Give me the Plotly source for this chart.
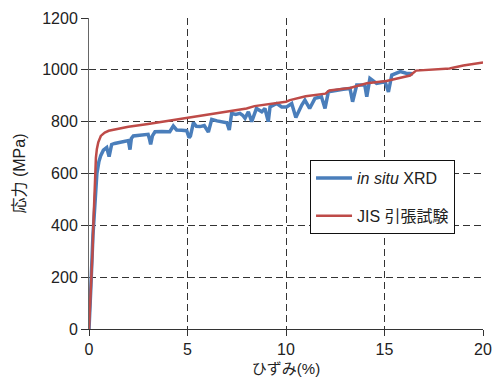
import plotly.graph_objects as go

# in situ XRD (blue)
xrd_strain = [0, 0.05, 0.1, 0.2, 0.3, 0.4, 0.5, 0.6, 0.73, 0.9, 1.02, 1.1, 1.15, 1.3, 1.49, 1.8, 2.0, 2.08,
              2.15, 2.25, 2.6, 3.0, 3.08, 3.13, 3.22, 3.35, 3.7, 4.1, 4.28, 4.45, 4.7, 4.96, 5.08, 5.15,
              5.3, 5.45, 5.63, 5.85, 6.06, 6.23, 6.5, 6.74, 7.0, 7.12, 7.24, 7.45, 7.66, 7.8, 7.92, 8.09,
              8.26, 8.5, 8.77, 8.93, 9.1, 9.19, 9.53, 9.78, 10.03, 10.29, 10.5, 10.8, 10.96, 11.2, 11.47,
              11.8, 11.98, 12.15, 12.57, 12.9, 13.25, 13.38, 13.59, 14.0, 14.1, 14.26, 14.6, 15.03, 15.2,
              15.37, 15.8, 16.1, 16.45]
xrd_stress = [0, 60, 170, 360, 510, 600, 645, 670, 690, 700, 665, 700, 712, 716, 719, 724, 727, 692,
              735, 745, 748, 751, 730, 712, 745, 761, 762, 761, 783, 768, 767, 765, 738, 745,
              796, 782, 781, 785, 760, 809, 803, 800, 796, 768, 832, 828, 832, 825, 813, 838,
              800, 851, 838, 851, 800, 857, 870, 857, 857, 870, 816, 864, 883, 851, 890,
              896, 851, 915, 922, 925, 928, 877, 941, 941, 896, 967, 948, 954, 915,
              980, 993, 987, 985]

# JIS tensile test (red)
jis_strain = [0, 0.07, 0.13, 0.18, 0.22, 0.26, 0.3, 0.35, 0.4, 0.47, 0.6, 0.8, 1.0, 1.5, 2, 3, 4, 5, 6, 7,
              8, 8.4, 9, 10, 10.2, 11, 12.0, 12.2, 13.25, 14.1, 15.1, 16.3, 16.6, 17.5, 18.3, 19, 20]
jis_stress = [0, 100, 200, 300, 400, 500, 600, 660, 695, 720, 745, 758, 765, 772, 780, 791, 803, 814, 826, 838,
              851, 860, 866, 877, 883, 898, 908, 920, 930, 948, 957, 978, 997, 1000, 1005, 1017, 1028]

x_ticks = [0, 5, 10, 15, 20]
y_ticks = [0, 200, 400, 600, 800, 1000, 1200]

FONT = "Liberation Sans, Arial, Noto Sans CJK JP"

fig = go.Figure()
fig.add_trace(go.Scatter(x=xrd_strain, y=xrd_stress, mode="lines", name="<i>in situ</i> XRD",
                         line=dict(color="#4a7ebb", width=3.5), legendgroup="a"))
fig.add_trace(go.Scatter(x=jis_strain, y=jis_stress, mode="lines", name="JIS 引張試験",
                         line=dict(color="#be4b48", width=2.5), legendgroup="b"))

fig.update_layout(
    width=493, height=378,
    margin=dict(l=89, r=10, t=18, b=49, autoexpand=False),
    paper_bgcolor="white", plot_bgcolor="white",
    font=dict(family=FONT, size=16, color="#222"),
    showlegend=True,
    legend=dict(x=0.561, y=0.543, xanchor="left", yanchor="top",
                bgcolor="white", bordercolor="#111", borderwidth=1,
                font=dict(size=16, family=FONT, color="#222"),
                tracegroupgap=14, traceorder="grouped", itemwidth=36,
                entrywidth=140, entrywidthmode="pixels"),
    xaxis=dict(range=[0, 20], tickvals=x_ticks, showgrid=True, gridcolor="#333", griddash="7px,4px",
               gridwidth=1, zeroline=False, showline=True, linecolor="#333", linewidth=1,
               ticks="outside", ticklen=6, tickcolor="#333", fixedrange=True, automargin=False,
               title=dict(text="ひずみ(%)", font=dict(size=15, family=FONT, color="#222"), standoff=6)),
    yaxis=dict(range=[0, 1200], tickvals=y_ticks, showgrid=True, gridcolor="#333", griddash="7px,4px",
               gridwidth=1, zeroline=False, showline=True, linecolor="#666", linewidth=1,
               ticks="outside", ticklen=7, tickcolor="#333", fixedrange=True, automargin=False,
               title=dict(text="応力 (MPa)", font=dict(size=16, family=FONT, color="#222"), standoff=12)),
)

fig.write_html("out.html")
